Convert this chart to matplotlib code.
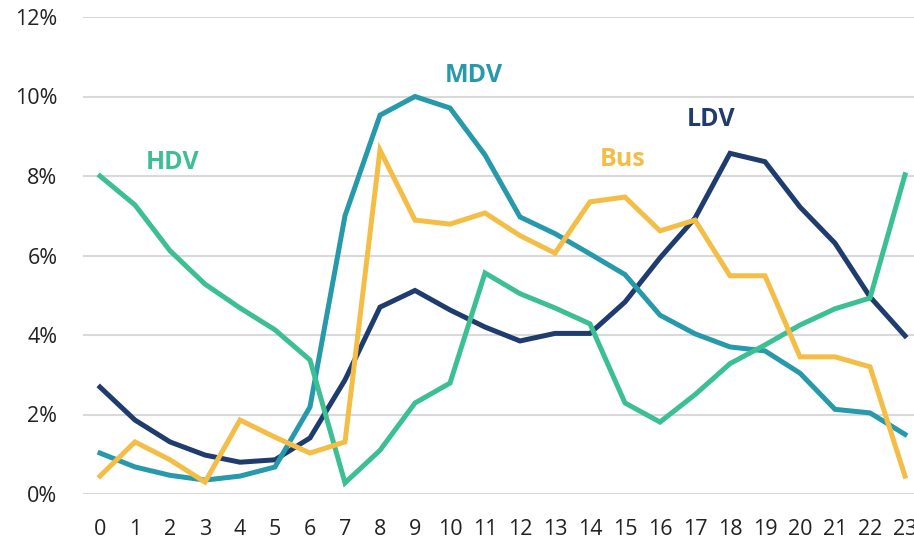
import matplotlib
matplotlib.use("Agg")
import matplotlib.pyplot as plt
from matplotlib.ticker import FuncFormatter

hours = list(range(24))
hdv = [8.0, 7.27, 6.12, 5.28, 4.68, 4.13, 3.37, 0.28, 1.1, 2.29, 2.79, 5.56,
       5.04, 4.68, 4.28, 2.29, 1.81, 2.5, 3.28, 3.75, 4.25, 4.66, 4.93, 8.03]
mdv = [1.03, 0.68, 0.47, 0.35, 0.45, 0.68, 2.19, 7.0, 9.53, 10.0, 9.71, 8.53,
       6.97, 6.55, 6.04, 5.52, 4.5, 4.03, 3.7, 3.6, 3.04, 2.13, 2.04, 1.5]
ldv = [2.69, 1.86, 1.31, 0.98, 0.8, 0.86, 1.41, 2.87, 4.7, 5.12, 4.63, 4.2,
       3.85, 4.04, 4.04, 4.83, 5.94, 6.94, 8.57, 8.36, 7.22, 6.31, 4.96, 3.98]
bus = [0.45, 1.31, 0.86, 0.3, 1.86, 1.43, 1.03, 1.31, 8.65, 6.89, 6.79, 7.07,
       6.5, 6.06, 7.35, 7.47, 6.62, 6.89, 5.49, 5.49, 3.45, 3.45, 3.2, 0.45]
yticks = [0, 2, 4, 6, 8, 10, 12]

c_hdv = "#3bbf93"
c_mdv = "#2699aa"
c_ldv = "#1e3c6d"
c_bus = "#f4bd45"

plt.rcParams['font.family'] = ['Open Sans', 'DejaVu Sans']

fig = plt.figure(figsize=(9.14, 5.45), dpi=100)
ax = fig.add_axes([82.5/914, 51/545, 840/914, 477/545])

lw = 3.6
ax.plot(hours, ldv, color=c_ldv, lw=lw, solid_joinstyle='miter', zorder=3)
ax.plot(hours, mdv, color=c_mdv, lw=lw, solid_joinstyle='miter', zorder=3)
ax.plot(hours, hdv, color=c_hdv, lw=lw, solid_joinstyle='miter', zorder=3)
ax.plot(hours, bus, color=c_bus, lw=lw, solid_joinstyle='miter', zorder=3)

ax.set_xlim(-0.5, 23.5)
ax.set_ylim(0, 12)
ax.set_yticks(yticks)
ax.yaxis.set_major_formatter(FuncFormatter(lambda v, p: f"{int(v)}%"))
ax.set_xticks(hours)
ax.grid(axis='y', color='#d9d9d9', lw=1.5, zorder=0)
ax.set_axisbelow(True)
for s in ax.spines.values():
    s.set_visible(False)
ax.tick_params(axis='both', length=0, labelsize=15.5, colors='#222222')
ax.tick_params(axis='y', pad=18)
ax.tick_params(axis='x', pad=18)

lab_kw = dict(fontsize=18, fontweight='bold', ha='center', va='center')
ax.text(2.08, 8.35, "HDV", color=c_hdv, **lab_kw)
ax.text(10.67, 10.52, "MDV", color=c_mdv, **lab_kw)
ax.text(17.45, 9.42, "LDV", color=c_ldv, **lab_kw)
ax.text(14.92, 8.42, "Bus", color=c_bus, **lab_kw)

fig.savefig("out.png", dpi=100, facecolor='white')
